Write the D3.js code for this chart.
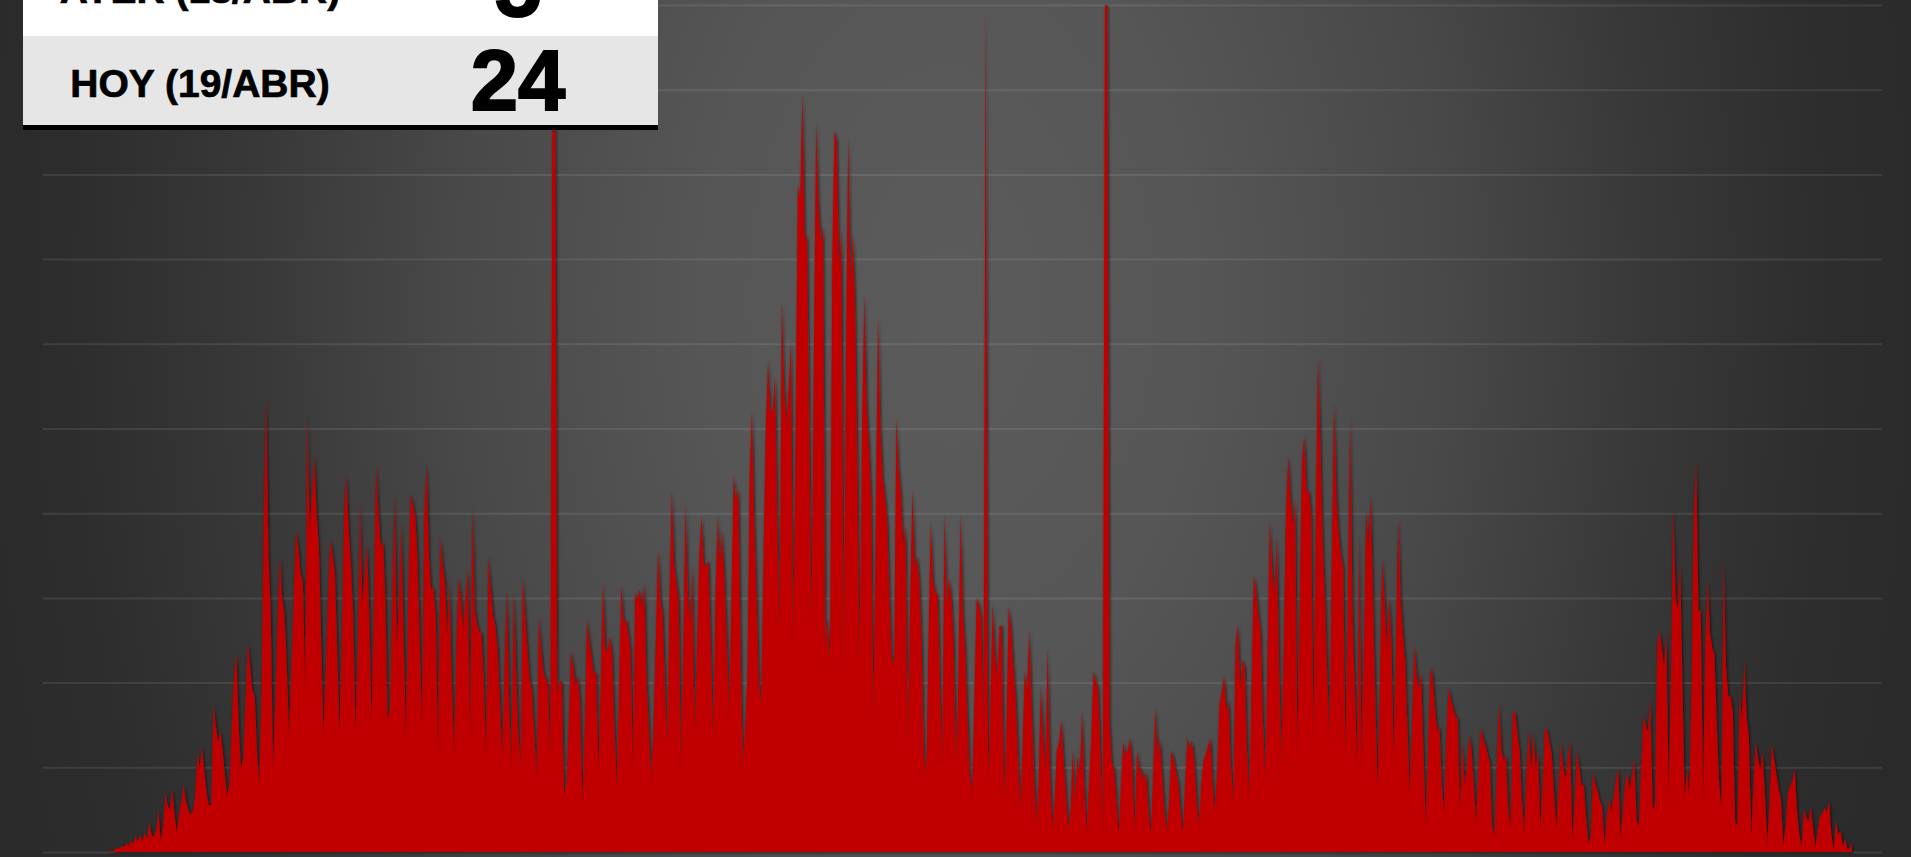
<!DOCTYPE html>
<html>
<head>
<meta charset="utf-8">
<script src="https://cdn.jsdelivr.net/npm/d3@7"></script>
<style>
  html, body { margin: 0; padding: 0; background: #2a2a2a; overflow: hidden; }
  svg { display: block; }
</style>
</head>
<body>
<div id="chart"></div>
<script>
// daily values, last one is 19/abr
const lastDay = "2022-04-19";
const values = [
  0,0,0,0,0,0,0,0,0.2,0,
  0.3,0.5,0.4,0.7,0.6,1.0,0.8,1.3,1.0,1.9,
  1.2,2.0,1.3,2.2,1.6,3.5,2.0,1.8,2.6,5.0,
  1.3,3.0,7.0,5.5,5.0,7.5,4.5,2.3,4.5,6.0,
  7.9,6.0,5.0,4.4,4.8,6.5,11.5,10.0,12.5,9.6,
  7.0,5.5,5.6,17.4,15.0,13.0,14.3,12.0,9.0,6.6,
  8.0,15.0,21.0,23.5,15.0,9.8,11.0,18.0,24.7,22.0,
  19.0,18.4,12.0,7.8,20.0,40.0,54.0,35.0,28.0,9.6,
  18.0,28.0,35.0,30.0,28.0,22.0,13.7,22.0,30.0,38.0,
  36.0,33.0,32.0,19.6,51.7,38.0,42.0,47.0,40.0,36.0,
  25.0,13.7,22.0,30.0,37.0,35.0,33.0,24.0,14.0,25.0,
  40.0,44.6,38.0,33.8,28.0,14.0,25.0,41.5,29.0,33.0,
  36.5,28.0,14.9,30.0,45.8,40.0,36.0,36.7,30.0,15.5,
  16.8,30.0,42.4,24.0,30.0,39.0,25.0,13.5,30.0,42.4,
  41.0,39.7,35.0,25.0,14.9,40.0,46.0,35.0,31.0,31.2,
  28.0,11.3,37.3,34.0,32.0,25.5,32.0,20.0,11.3,25.0,
  32.4,30.0,26.3,30.0,33.4,12.9,41.0,28.7,27.0,26.0,
  25.9,20.0,11.1,35.0,31.0,28.0,26.7,24.0,18.0,10.9,
  22.0,31.2,18.0,10.2,31.0,22.0,14.0,10.2,32.4,28.0,
  24.0,20.4,19.0,14.0,8.4,27.9,24.0,21.2,20.5,19.6,
  10.7,100,100,18.6,20.2,20.2,6.8,8.2,15.0,23.7,
  22.0,19.6,20.8,17.6,5.6,15.0,27.5,25.0,23.0,21.0,
  21.4,9.4,20.0,32.0,23.5,24.0,25.5,23.1,15.0,7.4,
  20.0,31.6,27.0,27.5,26.0,24.0,10.2,30.6,29.8,31.0,
  28.7,31.8,20.0,14.5,8.6,15.0,25.0,35.7,30.0,28.0,
  20.0,12.5,30.0,42.8,34.0,31.8,29.8,10.2,25.0,41.0,
  30.6,26.8,34.0,13.4,25.0,35.0,39.7,33.5,34.0,34.4,
  25.0,12.8,30.0,39.7,33.8,37.9,32.0,25.0,16.3,30.0,
  44.6,41.4,42.9,25.0,9.9,15.0,21.0,45.0,52.2,38.5,
  30.0,20.0,17.5,35.0,50.0,58.0,52.2,52.0,56.3,40.0,
  25.7,65.3,55.0,50.2,55.0,60.4,23.9,50.0,78.8,77.0,
  89.7,72.0,73.0,50.0,26.8,60.0,86.3,76.4,72.0,74.0,
  23.9,27.7,22.2,70.0,85.2,84.0,68.8,73.5,21.0,60.0,
  84.6,66.5,73.2,63.6,45.0,21.9,50.0,65.9,53.0,48.0,
  42.0,15.8,40.0,63.3,50.0,44.3,42.0,39.0,30.0,22.8,
  22.2,51.3,45.0,42.0,36.2,38.5,12.8,30.0,42.9,33.3,
  35.0,32.0,25.0,11.4,9.3,25.0,39.0,32.0,30.6,30.3,
  20.0,10.5,40.0,29.0,32.4,29.8,25.0,9.9,20.0,40.0,
  28.6,23.9,16.0,9.3,7.0,18.0,30.0,29.2,27.7,15.0,
  100,7.6,17.9,29.4,23.3,20.4,26.7,26.7,5.7,15.0,
  29.0,26.7,22.0,18.3,12.0,4.9,12.0,21.4,19.0,26.2,
  17.4,10.0,3.2,8.0,19.5,14.0,9.5,24.2,10.0,2.8,
  6.0,12.0,13.0,15.6,10.7,7.0,2.8,5.0,12.2,5.7,
  11.4,9.0,16.8,8.0,2.3,8.0,13.2,21.4,20.2,19.3,
  12.0,2.8,100,100,15.3,10.5,9.9,6.0,1.9,8.0,
  13.0,11.4,12.0,13.5,10.0,2.1,12.0,10.0,9.5,8.4,
  9.5,5.0,1.9,9.0,17.0,11.4,13.5,9.0,5.0,2.3,
  6.0,12.0,11.0,9.5,8.2,5.0,2.1,8.0,13.5,12.0,
  13.2,10.7,6.0,3.2,8.0,10.7,11.6,12.5,13.5,8.0,
  4.7,10.0,17.4,19.0,20.8,16.6,17.9,10.0,5.7,24.4,
  26.9,19.1,22.7,22.0,12.0,6.5,20.0,32.7,30.9,28.0,
  25.8,15.0,8.8,25.0,39.2,33.0,30.4,37.4,22.0,10.7,
  25.0,40.0,46.8,41.8,38.5,41.6,11.7,30.0,46.3,49.0,
  42.4,42.8,40.0,13.3,40.0,58.5,48.0,36.9,30.0,21.2,
  13.7,35.0,53.2,42.0,37.7,35.0,33.7,11.1,30.0,51.8,
  29.0,20.0,10.1,37.7,10.3,25.0,40.4,36.1,42.2,29.4,
  18.0,7.2,20.0,34.7,30.0,23.9,30.2,25.0,10.7,25.0,
  39.4,30.0,25.9,22.7,15.0,6.6,15.0,24.5,21.0,19.2,
  21.2,12.0,3.1,12.0,21.9,20.8,17.0,14.3,14.9,8.0,
  4.6,14.0,19.4,18.0,17.0,16.0,15.7,4.6,13.1,7.8,
  10.0,13.9,12.1,8.0,3.1,10.0,14.7,13.5,12.7,11.5,
  10.5,2.9,1.9,10.0,17.6,12.0,10.9,11.3,5.0,2.7,
  16.4,16.6,14.0,11.9,6.0,2.1,10.0,14.5,9.4,14.1,
  9.8,12.1,2.7,8.0,14.5,14.5,13.0,11.5,7.0,2.7,
  8.0,12.9,10.0,8.6,11.0,13.1,1.3,6.0,11.9,10.0,
  7.8,8.0,4.0,1.1,1.7,9.4,8.0,7.2,6.0,5.4,
  0.9,4.0,6.4,4.8,6.5,8.5,9.9,1.5,5.0,8.0,
  9.4,7.4,9.0,11.1,3.7,3.1,10.0,16.0,15.0,14.1,
  18.2,5.0,5.6,24.3,26.2,24.0,21.9,25.9,6.8,20.0,
  41.0,30.0,28.8,34.3,20.0,6.4,9.9,6.6,20.0,40.0,
  46.1,28.4,28.6,6.2,25.0,32.1,26.0,24.1,23.3,15.0,
  8.2,5.0,34.9,22.0,18.4,18.4,16.6,3.5,3.1,18.8,
  15.4,22.7,16.0,13.7,1.7,8.0,13.1,11.0,9.7,11.9,
  7.0,0.9,6.0,12.9,11.0,9.2,7.5,6.2,0.9,3.0,
  7.0,7.8,8.5,9.9,5.0,2.0,0.7,5.0,4.2,3.5,
  5.4,3.0,0.5,2.5,4.2,4.5,5.2,4.8,6.0,2.0,
  0.2,3.7,2.1,2.5,0.7,1.5,0.3,0.5,1.1
];
const gridTicks = [0, 10, 20, 30, 40, 50, 60, 70, 80, 90, 100];
const boxLabels = ["AYER (18/ABR)", "HOY (19/ABR)"];
const boxValues = [5, 24];

const W = 1911, H = 857;
const gridLeft = 43, gridRight = 1882, plotBottom = 852, plotTop = 5;

const svg = d3.select("#chart").append("svg")
  .attr("width", W)
  .attr("height", H);

const defs = svg.append("defs");

// background glow
const bg = defs.append("radialGradient")
  .attr("id", "bg")
  .attr("gradientUnits", "userSpaceOnUse")
  .attr("cx", 950).attr("cy", 300).attr("r", 1000)
  .attr("gradientTransform", "translate(950,300) scale(1,1.6) translate(-950,-300)");
[[0, "#5b5b5b"], [0.25, "#565656"], [0.5, "#484848"], [0.7, "#383838"], [0.88, "#2d2d2d"], [1, "#2a2a2a"]]
  .forEach(([o, c]) => bg.append("stop").attr("offset", o).attr("stop-color", c));

const shadow = defs.append("filter")
  .attr("id", "shadow")
  .attr("x", "-5%").attr("y", "-5%").attr("width", "110%").attr("height", "110%");
shadow.append("feDropShadow")
  .attr("dx", 1).attr("dy", 1)
  .attr("stdDeviation", 1.6)
  .attr("flood-color", "#000")
  .attr("flood-opacity", 0.65);

svg.append("rect")
  .attr("width", W)
  .attr("height", H)
  .attr("fill", "url(#bg)");

// scales
const parse = d3.timeParse("%Y-%m-%d");
const end = parse(lastDay);
const data = values.map((v, i) => ({ date: d3.timeDay.offset(end, i - values.length + 1), value: v }));

const x = d3.scaleTime()
  .domain(d3.extent(data, d => d.date))
  .range([92, 1852]);
const y = d3.scaleLinear()
  .domain([0, 100])
  .range([plotBottom, plotTop]);

// grid lines
svg.append("g")
  .attr("transform", `translate(${gridLeft}, 0)`)
  .call(d3.axisLeft(y).tickValues(gridTicks).tickSize(-(gridRight - gridLeft)).tickFormat(""))
  .call(g => g.select(".domain").remove())
  .selectAll("line")
  .attr("stroke", "rgba(255,255,255,0.09)")
  .attr("stroke-width", 2);

// area
const area = d3.area()
  .x(d => x(d.date))
  .y0(y(0))
  .y1(d => y(d.value));

svg.append("path")
  .datum(data)
  .attr("d", area)
  .attr("fill", "#c00000")
  .attr("filter", "url(#shadow)");

// info box
const box = svg.append("g");
const rowH = 89, boxX = 23, boxW = 635, rowTop = [-53, 36];

box.selectAll("rect.row")
  .data(boxLabels)
  .enter().append("rect")
  .attr("class", "row")
  .attr("x", boxX)
  .attr("y", (d, i) => rowTop[i])
  .attr("width", boxW)
  .attr("height", rowH)
  .attr("fill", (d, i) => i === 0 ? "#ffffff" : "#e6e6e6");

box.append("rect")
  .attr("x", boxX)
  .attr("y", rowTop[1] + rowH)
  .attr("width", boxW)
  .attr("height", 5)
  .attr("fill", "#000");

box.selectAll("text.lbl")
  .data(boxLabels)
  .enter().append("text")
  .attr("class", "lbl")
  .attr("x", 200)
  .attr("y", (d, i) => i === 0 ? 3 : 97)
  .attr("text-anchor", "middle")
  .attr("font-family", "'Liberation Sans', Arial, sans-serif")
  .attr("font-weight", "bold")
  .attr("font-size", 39)
  .attr("fill", "#000")
  .attr("stroke", "#000")
  .attr("stroke-width", 0.7)
  .text(d => d);

box.selectAll("text.val")
  .data(boxValues)
  .enter().append("text")
  .attr("class", "val")
  .attr("x", 518)
  .attr("y", (d, i) => i === 0 ? 16 : 110)
  .attr("text-anchor", "middle")
  .attr("font-family", "'Liberation Sans', Arial, sans-serif")
  .attr("font-weight", "bold")
  .attr("font-size", 85)
  .attr("fill", "#000")
  .attr("stroke", "#000")
  .attr("stroke-width", 2)
  .text(d => d);
</script>
</body>
</html>
